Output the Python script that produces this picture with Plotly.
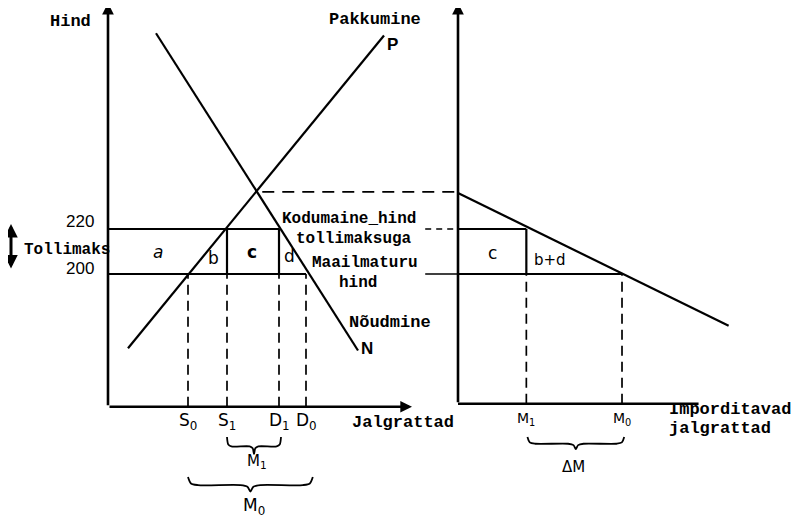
import plotly.graph_objects as go

W, H = 807, 522
OX, OY = 8, 8            # page body margin of the browser
FW, FH = W - OX, H - OY  # figure size so that it ends at the window edge

# ---------------- data (economic units) ----------------
p_world = 200          # Maailmaturu hind
p_tariff = 220         # Kodumaine hind tollimaksuga
price_tick_labels = ["220", "200"]
supply_q = [5, 69]
supply_p = [167, 306]
demand_q = [12, 62.5]
demand_p = [307, 166]
eq_q, eq_p = 37.2, 236.5
S0, S1, D1, D0 = 20, 29.75, 42.75, 49.5
M1, M0 = 12.5, 30
import_q = [0, 49.5]
import_p = [236.0, 177]
axis_p_left = 141
axis_p_right = 142.3
axis_top_p = 320.5
xaxis_end_left = 76
xaxis_end_right = 44
area_labels_left = ["a", "b", "c", "d"]
area_labels_right = ["c", "b+d"]

# ---------------- axes ranges (layout, window pixels -> units) ----------------
XL = [(OX - 108) / 4, (W - 108) / 4]
XR = [(OX - 458) / 5.467, (W - 458) / 5.467]
YR = [200 - (H - 274) / 2.25, 200 + (274 - OY) / 2.25]


def px(x):
    return (x - OX) / FW


def py(y):
    return 1 - (y - OY) / FH


def left_to_right(q):
    frac = (q - XL[0]) / (XL[1] - XL[0])
    return XR[0] + frac * (XR[1] - XR[0])


fig = go.Figure()
BLK = "black"


def line(xs, ys, axis="x", width=2, dash=None):
    fig.add_trace(go.Scatter(
        x=xs, y=ys, xaxis=axis, yaxis="y", mode="lines",
        line=dict(color=BLK, width=width, dash=dash),
        hoverinfo="skip", showlegend=False))


DASH = "10px,6px"

# supply and demand
line(supply_q, supply_p, width=2.2)
line(demand_q, demand_p, width=2.2)
# price levels (left)
line([0, D1], [p_tariff, p_tariff], width=2.2)
line([0, D0], [p_world, p_world], width=2.2)
line([S1, S1], [p_world, p_tariff], width=2.2)
line([D1, D1], [p_world, p_tariff], width=2.2)
# dashed drops (left)
for q in [S0, S1, D1, D0]:
    line([q, q], [axis_p_left, p_world], width=1.7, dash=DASH)
# equilibrium dashed line to right axis
line([left_to_right(eq_q) + 1, 0], [eq_p, eq_p], axis="x2", width=1.7, dash="12px,8px")
line([-6, 0], [p_tariff, p_tariff], axis="x2", width=1.7, dash="6px,5px")
line([-6, 0], [p_world, p_world], axis="x2", width=1.7)

# right panel
line(import_q, import_p, axis="x2", width=2.2)
line([0, M1], [p_tariff, p_tariff], axis="x2", width=2.2)
line([0, M0], [p_world, p_world], axis="x2", width=2.2)
line([M1, M1], [p_world, p_tariff], axis="x2", width=2.2)
for q in [M1, M0]:
    line([q, q], [axis_p_right, p_world], axis="x2", width=1.7, dash=DASH)
# right x axis
line([0, xaxis_end_right], [axis_p_right, axis_p_right], axis="x2", width=2.5)


# braces
def brace(q0, q1, p_top, depth, axis="x"):
    mid = (q0 + q1) / 2
    span = q1 - q0
    e = span * 0.08
    xs = [q0, q0 + e * 0.3, q0 + e, mid - e, mid - e * 0.3, mid,
          mid + e * 0.3, mid + e, q1 - e, q1 - e * 0.3, q1]
    ys = [p_top, p_top - depth * 0.8, p_top - depth, p_top - depth, p_top - depth * 1.2, p_top - depth * 1.8,
          p_top - depth * 1.2, p_top - depth, p_top - depth, p_top - depth * 0.8, p_top]
    fig.add_trace(go.Scatter(
        x=xs, y=ys, xaxis=axis, yaxis="y", mode="lines",
        line=dict(color=BLK, width=1.8, shape="spline", smoothing=0.8),
        hoverinfo="skip", showlegend=False))


brace(S1, D1 + 0.5, 200 - (437 - 274) / 2.25, 4.2)
brace(S0, D0 + 1.7, 200 - (477 - 274) / 2.25, 3.6)
brace(M1 + 0.2, M0 + 0.4, 200 - (437 - 274) / 2.25, 3.0, axis="x2")

ann = []


def arrow(x_tip, y_tip, x_base, y_base, xref):
    ann.append(dict(x=x_tip, y=y_tip, ax=x_base, ay=y_base, xref=xref, yref="y",
                    axref=xref, ayref="y", text="", showarrow=True,
                    arrowhead=2, arrowsize=0.9, arrowwidth=2.6, arrowcolor=BLK))


# axes with arrowheads
arrow(0, axis_top_p, 0, axis_p_left, "x")
arrow(xaxis_end_left, axis_p_left, 0, axis_p_left, "x")
arrow(0, axis_top_p, 0, axis_p_right, "x2")

# Tollimaks double arrow
ann.append(dict(x=px(11), y=py(224), xref="paper", yref="paper", ax=0, ay=46,
                text="", showarrow=True, arrowhead=2, arrowside="end+start",
                arrowsize=0.9, arrowwidth=3, arrowcolor=BLK))

TW = dict(family="Liberation Mono", size=17, color=BLK, weight="bold")
TW16 = dict(family="Liberation Mono", size=16, color=BLK, weight="bold")
SANS = dict(family="Liberation Sans", size=17, color=BLK)
HAND = dict(family="DejaVu Sans", size=17, color=BLK)


def text(t, x, y, font, xanchor="center", xref="paper", yref="paper"):
    ann.append(dict(text=t, x=x, y=y, xref=xref, yref=yref, showarrow=False,
                    font=font, xanchor=xanchor, yanchor="middle"))


text("Hind", px(70), py(21), TW)
text("Pakkumine", px(375), py(19), TW)
text("<b>P</b>", px(392), py(45), SANS)
text("<b>N</b>", px(367), py(348), SANS)
text("Nõudmine", px(390), py(322), TW)
text("Kodumaine_hind", px(349), py(219), TW16)
text("tollimaksuga", px(354), py(239), TW16)
text("Maailmaturu", px(365), py(263), TW16)
text("hind", px(358), py(283), TW16)
text("Tollimaks", px(67), py(250), TW16)
text(price_tick_labels[0], px(80), py(221), dict(family="Liberation Sans", size=17, color=BLK))
text(price_tick_labels[1], px(80), py(268), dict(family="Liberation Sans", size=17, color=BLK))

# area letters
text("<i>" + area_labels_left[0] + "</i>", px(158), py(252), HAND)
text(area_labels_left[1], px(213), py(258), HAND)
text("<b>" + area_labels_left[2] + "</b>", px(252), py(252), HAND)
text(area_labels_left[3], px(289), py(256), HAND)
text(area_labels_right[0], px(492), py(253), HAND)
text(area_labels_right[1], px(550), py(260), dict(family="DejaVu Sans", size=15, color=BLK))

# quantity labels
for lab, q in [("S<sub>0</sub>", S0), ("S<sub>1</sub>", S1), ("D<sub>1</sub>", D1), ("D<sub>0</sub>", D0)]:
    text(lab, q, py(421), HAND, xref="x")
text("Jalgrattad", px(403), py(422), TW)
text("M<sub>1</sub>", px(257), py(461), dict(family="DejaVu Sans", size=15, color=BLK))
text("M<sub>0</sub>", px(254), py(506), HAND)
text("M<sub>1</sub>", M1, py(419), dict(family="DejaVu Sans", size=14, color=BLK), xref="x2")
text("M<sub>0</sub>", M0, py(419), dict(family="DejaVu Sans", size=14, color=BLK), xref="x2")
text("ΔM", px(573), py(467), dict(family="DejaVu Sans", size=15, color=BLK))
text("Imporditavad", px(667), py(409), TW, xanchor="left")
text("jalgrattad", px(667), py(428), TW, xanchor="left")

fig.update_layout(
    width=FW, height=FH, autosize=False,
    margin=dict(l=0, r=0, t=0, b=0),
    paper_bgcolor="white", plot_bgcolor="white",
    showlegend=False,
    xaxis=dict(range=XL, visible=False, domain=[0, 1], fixedrange=True),
    xaxis2=dict(range=XR, visible=False, overlaying="x", anchor="y", fixedrange=True),
    yaxis=dict(range=YR, visible=False, domain=[0, 1], fixedrange=True),
    annotations=ann,
)

fig.write_html("out.html")
